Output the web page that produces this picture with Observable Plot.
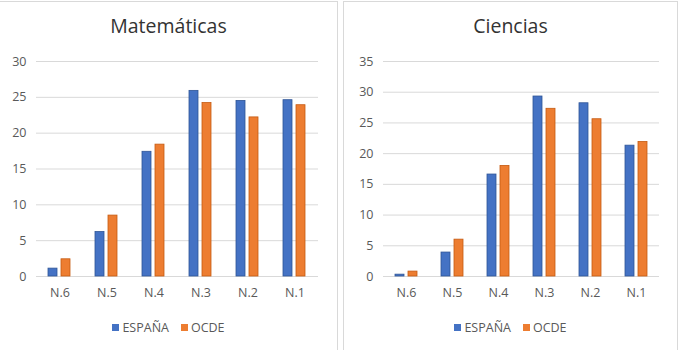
<!DOCTYPE html>
<html>
<head>
<meta charset="utf-8">
<script src="https://cdn.jsdelivr.net/npm/d3@7"></script>
<script src="https://cdn.jsdelivr.net/npm/@observablehq/plot@0.6"></script>
<style>
  html, body { margin: 0; padding: 0; background: #fff; }
  body { width: 680px; height: 350px; position: relative; overflow: hidden; font-family: "Open Sans", sans-serif; }
  .panel { position: absolute; top: 1px; height: 360px; border: 1px solid #d9d9d9; box-sizing: border-box; background: #fff; }
  .title { position: absolute; top: 10px; left: 0; right: 0; text-align: center; font-size: 19.5px; color: #333; }
  .chart { position: absolute; top: 42px; left: 0; }
  .legend { position: absolute; top: 316px; left: 0; right: 0; text-align: center; font-size: 12.5px; color: #595959; }
  .legend span.item { display: inline-flex; align-items: center; margin: 0 6px; }
  .legend span.sw { display: inline-block; width: 7px; height: 7px; margin-right: 3px; }
</style>
</head>
<body>
<div class="panel" id="p1" style="left:-1px; width:339px;"><div class="title">Matemáticas</div><div class="chart" id="c1"></div><div class="legend" id="l1"></div></div>
<div class="panel" id="p2" style="left:343px; width:335px;"><div class="title">Ciencias</div><div class="chart" id="c2"></div><div class="legend" id="l2"></div></div>
<script>
const categories = ["N.6", "N.5", "N.4", "N.3", "N.2", "N.1"];
const series = ["ESPAÑA", "OCDE"];
const colors = ["#4472C4", "#ED7D31"];
const strokes = ["#2F5597", "#C55A11"];
const mateEspana = [1.1, 6.2, 17.4, 25.9, 24.5, 24.6];
const mateOcde = [2.4, 8.5, 18.4, 24.2, 22.2, 23.9];
const cienEspana = [0.3, 3.9, 16.6, 29.3, 28.2, 21.3];
const cienOcde = [0.8, 6.0, 18.0, 27.3, 25.6, 21.9];
const mateTicks = [0, 5, 10, 15, 20, 25, 30];
const cienTicks = [0, 5, 10, 15, 20, 25, 30, 35];

function toRows(a, b) {
  const rows = [];
  categories.forEach((c, i) => {
    rows.push({cat: c, serie: series[0], value: a[i]});
    rows.push({cat: c, serie: series[1], value: b[i]});
  });
  return rows;
}

function makeChart(rows, ticks, width, marginLeft, marginRight) {
  return Plot.plot({
    width,
    height: 263,
    marginTop: 17,
    marginBottom: 31,
    marginLeft,
    marginRight,
    style: {fontFamily: "'Open Sans', sans-serif", fontSize: "12.5px", color: "#595959", background: "transparent"},
    fx: {domain: categories, padding: 0, label: null, tickSize: 0, tickPadding: 12},
    x: {domain: series, paddingInner: 0.3, paddingOuter: 0.85, axis: null},
    y: {domain: [0, ticks[ticks.length - 1]], ticks, tickSize: 0, tickPadding: 10, label: null},
    color: {domain: series, range: colors},
    marks: [
      Plot.ruleY(ticks, {stroke: "#d9d9d9", strokeWidth: 1}),
      Plot.barY(rows, {fx: "cat", x: "serie", y: "value", fill: "serie",
        stroke: d => strokes[series.indexOf(d.serie)], strokeWidth: 0.8})
    ]
  });
}

function legend(el) {
  el.innerHTML = series.map((s, i) =>
    `<span class="item"><span class="sw" style="background:${colors[i]}"></span>${s}</span>`).join("");
}

document.getElementById("c1").appendChild(makeChart(toRows(mateEspana, mateOcde), mateTicks, 337, 34, 17));
document.getElementById("c2").appendChild(makeChart(toRows(cienEspana, cienOcde), cienTicks, 333, 36, 16));
legend(document.getElementById("l1"));
legend(document.getElementById("l2"));
</script>
</body>
</html>
